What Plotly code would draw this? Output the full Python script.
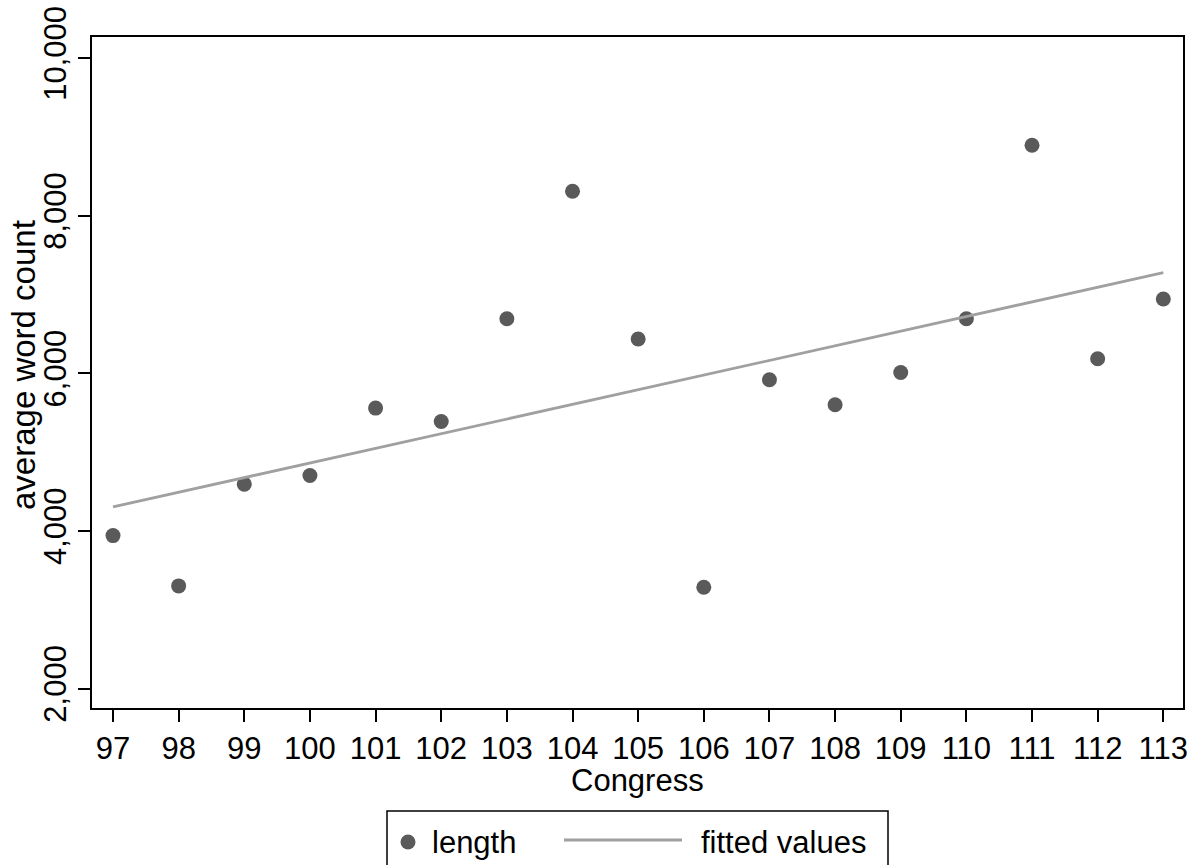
import numpy as np
import plotly.graph_objects as go

# ---- data ----
congress = list(range(97, 114))
length = [3940, 3302, 4593, 4702, 5558, 5388, 6692, 8309, 6434,
          3285, 5917, 5600, 6010, 6692, 8893, 6184, 6942]
y_tick_vals = [2000, 4000, 6000, 8000, 10000]
y_tick_text = ["2,000", "4,000", "6,000", "8,000", "10,000"]
x_tick_vals = congress
x_tick_text = [str(c) for c in congress]
legend_labels = ["length", "fitted values"]
x_title = "Congress"
y_title = "average word count"

# linear fit (the "fitted values" series)
slope, intercept = np.polyfit(congress, length, 1)
fitted = [slope * c + intercept for c in congress]

FONT = "Liberation Sans, Arial, sans-serif"
MARKER_COLOR = "#5a5a5a"
LINE_COLOR = "#a0a0a0"
FS = 31

W, H = 1198, 865
L, R, T, B = 92, 15, 37, 157
PW, PH = W - L - R, H - T - B


def px(x):
    return (x - L) / PW


def py(y):
    return (H - B - y) / PH


fig = go.Figure()
fig.add_trace(go.Scatter(
    x=congress, y=length, mode="markers", name=legend_labels[0],
    marker=dict(size=15, color=MARKER_COLOR, line=dict(width=0)),
    showlegend=False,
))
fig.add_trace(go.Scatter(
    x=congress, y=fitted, mode="lines", name=legend_labels[1],
    line=dict(color=LINE_COLOR, width=2.8),
    showlegend=False,
))

# manual legend (Stata style)
shapes = [
    dict(type="rect", xref="paper", yref="paper",
         x0=px(387), x1=px(888), y0=py(890), y1=py(811),
         line=dict(color="black", width=1.5), fillcolor="white", layer="below"),
    dict(type="circle", xref="paper", yref="paper",
         x0=px(400.5), x1=px(415.5), y0=py(849.5), y1=py(834.5),
         line=dict(width=0), fillcolor=MARKER_COLOR),
    dict(type="line", xref="paper", yref="paper",
         x0=px(564), x1=px(682), y0=py(840), y1=py(840),
         line=dict(color=LINE_COLOR, width=2.8)),
]
annotations = [
    dict(text=legend_labels[0], xref="paper", yref="paper",
         x=px(431), y=py(842), xanchor="left", yanchor="middle",
         showarrow=False, borderpad=0,
         font=dict(family=FONT, size=FS, color="black")),
    dict(text=legend_labels[1], xref="paper", yref="paper",
         x=px(700), y=py(842), xanchor="left", yanchor="middle",
         showarrow=False, borderpad=0,
         font=dict(family=FONT, size=FS, color="black")),
    dict(text=x_title, xref="paper", yref="paper",
         x=0.5, y=py(780), xanchor="center", yanchor="middle",
         showarrow=False, borderpad=0,
         font=dict(family=FONT, size=FS, color="black")),
    dict(text=y_title, xref="paper", yref="paper", textangle=-90,
         x=px(23), y=py(365), xanchor="center", yanchor="middle",
         showarrow=False, borderpad=0,
         font=dict(family=FONT, size=33, color="black")),
]

fig.update_layout(
    width=W, height=H,
    margin=dict(l=L, r=R, t=T, b=B, autoexpand=False),
    paper_bgcolor="white", plot_bgcolor="white",
    font=dict(family=FONT, size=FS, color="black"),
    shapes=shapes, annotations=annotations,
    showlegend=False,
)
fig.update_xaxes(
    range=[96.68, 113.30], tickvals=x_tick_vals, ticktext=x_tick_text,
    showgrid=False, zeroline=False,
    showline=True, linecolor="black", linewidth=2, mirror=True,
    ticks="outside", ticklen=12, tickwidth=1.5, tickcolor="black",
    tickfont=dict(family=FONT, size=FS),
)
fig.update_yaxes(
    range=[1753, 10266], tickvals=y_tick_vals, ticktext=y_tick_text,
    showgrid=False, zeroline=False,
    showline=True, linecolor="black", linewidth=2, mirror=True,
    ticks="outside", ticklen=12, tickwidth=1.5, tickcolor="black",
    tickangle=-90, tickfont=dict(family=FONT, size=FS),
)

fig.write_html("out.html")
